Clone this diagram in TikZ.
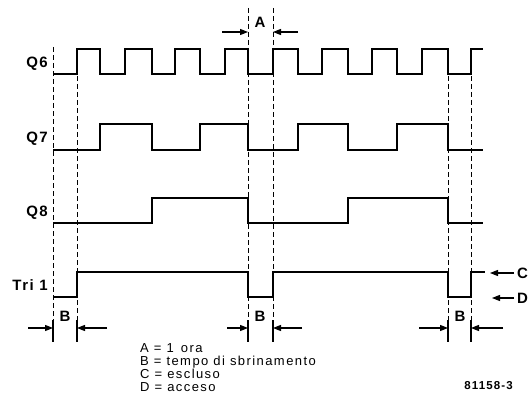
\documentclass[tikz,border=0pt]{standalone}
\usepackage{fontspec}
\setmainfont{Liberation Sans}[LetterSpace=10]
\newfontfamily\legendfont{Liberation Sans}[LetterSpace=11]
\usetikzlibrary{arrows.meta}

\begin{document}
\begin{tikzpicture}[
    x=1pt, y=-1pt,
    every node/.style={inner sep=0pt, font=\fontsize{15}{15}\selectfont\bfseries},
    signal/.style={line width=2pt, line join=miter},
    guide/.style={line width=1pt, dash pattern=on 5pt off 3pt},
    tick/.style={line width=1.1pt},
    dim/.style={line width=1.1pt, -{Triangle[length=8pt, width=6pt]}},
    legend/.style={anchor=north west, align=left, font=\legendfont\fontsize{13}{13}\selectfont}
]
    \useasboundingbox (0,0) rectangle (529,401);

    % signal names
    \node[anchor=east] (q6) at (48,64) {Q6};
    \node[anchor=east] (q7) at (48,139) {Q7};
    \node[anchor=east] (q8) at (48,213) {Q8};
    \node[anchor=east] (tri) at (48,285) {Tri 1};

    % waveforms
    \draw[signal] (53,74) -| (77,49) -| (100,74) -| (125,49) -| (152,74) -| (175,49)
        -| (200,74) -| (225,49) -| (248,74) -| (273,49) -| (298,74) -| (322,49)
        -| (348,74) -| (372,49) -| (397,74) -| (422,49) -| (448,74) -| (471,49) -- (483,49);
    \draw[signal] (53,150) -| (100,124) -| (152,150) -| (200,124) -| (248,150)
        -| (298,124) -| (348,150) -| (397,124) -| (448,150) -- (483,150);
    \draw[signal] (53,223) -| (152,198) -| (248,223) -| (348,198) -| (448,223) -- (483,223);
    \draw[signal] (53,297) -| (77,272) -| (248,297) -| (273,272) -| (448,297) -| (471,272) -- (485,272);

    % guides
    \draw[guide] (53,47) -- (53,320);
    \draw[guide] (77,76) -- (77,320);
    \draw[guide] (248,8) -- (248,320);
    \draw[guide] (273,8) -- (273,320);
    \draw[guide] (448,76) -- (448,320);
    \draw[guide] (471,76) -- (471,320);
    \foreach \x in {53,77,248,273,448,471}
        \draw[tick] (\x,320) -- (\x,342);

    % A
    \coordinate (aL) at (248,32);
    \coordinate (aR) at (273,32);
    \draw[dim] (222,32) -- (aL);
    \draw[dim] (298,32) -- (aR);
    \node (lblA) at (260,22) {A};

    % B
    \coordinate (b1L) at (53,328);
    \coordinate (b1R) at (77,328);
    \draw[dim] (28,328) -- (b1L);
    \draw[dim] (107,328) -- (b1R);
    \node (lblB1) at (65,316) {B};

    \coordinate (b2L) at (248,328);
    \coordinate (b2R) at (273,328);
    \draw[dim] (227,328) -- (b2L);
    \draw[dim] (302,328) -- (b2R);
    \node (lblB2) at (260,316) {B};

    \coordinate (b3L) at (448,328);
    \coordinate (b3R) at (471,328);
    \draw[dim] (419,328) -- (b3L);
    \draw[dim] (503,328) -- (b3R);
    \node (lblB3) at (460,316) {B};

    % C, D
    \node[anchor=west] (lblC) at (517,273) {C};
    \node[anchor=west] (lblD) at (517,298) {D};
    \draw[dim] (lblC.west) ++(-3,0) -- (490,273);
    \draw[dim] (lblD.west) ++(-3,0) -- (492,298);

    % legend
    \node[legend] (legend) at (140,343) {A = 1\, ora\\B = tempo di sbrinamento\\C = escluso\\D = acceso};

    \node[anchor=base east, font=\fontsize{11.5}{11.5}\selectfont\bfseries] (fig) at (513,389) {81158-3};
\end{tikzpicture}
\end{document}
